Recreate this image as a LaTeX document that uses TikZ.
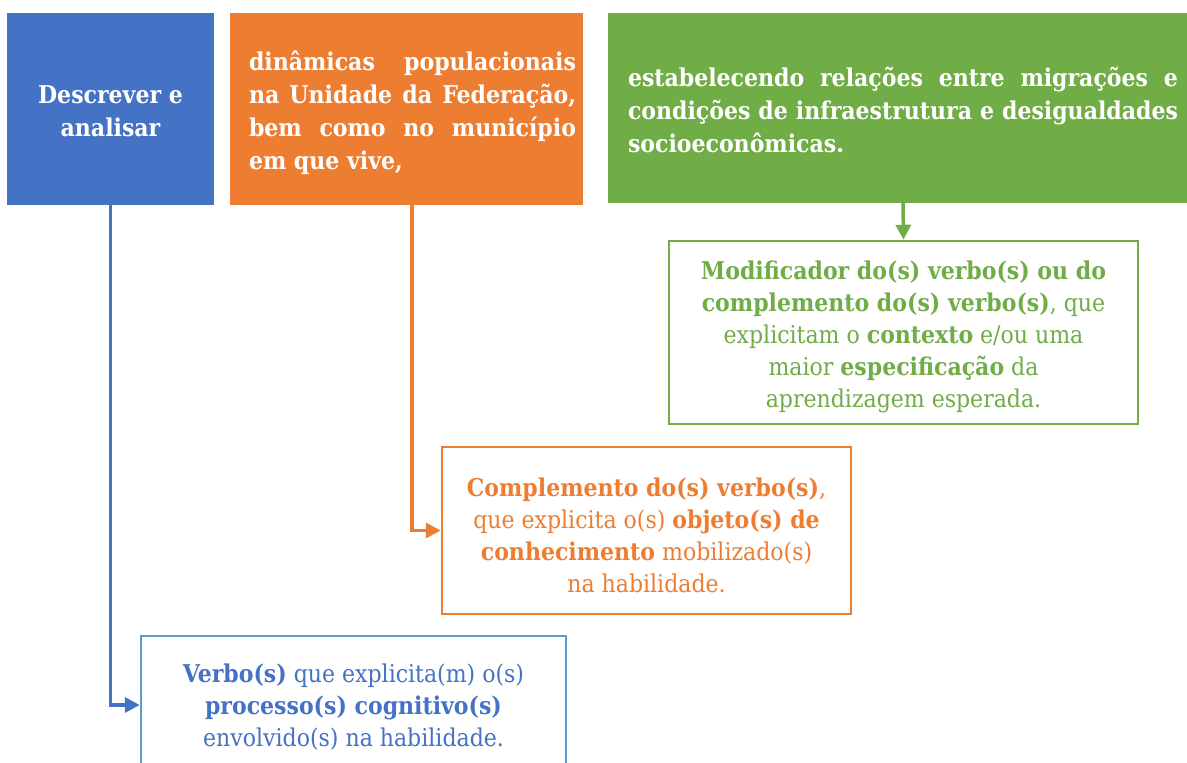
\documentclass[tikz,border=0pt]{standalone}
\usepackage{fontspec}
\setmainfont{DejaVu Serif Condensed}
\usetikzlibrary{arrows.meta}
\definecolor{cblue}{HTML}{4472C4}
\definecolor{cblueline}{HTML}{5B9BD5}
\definecolor{corange}{HTML}{ED7D31}
\definecolor{cgreen}{HTML}{70AD47}
\tikzset{
  topbox/.style={fill=#1, draw=none, inner sep=0pt, text=white, font=\fontsize{24.5}{33}\selectfont\bfseries},
  outbox/.style={draw=#1, line width=2.5pt, inner sep=0pt, fill=white, align=center, font=\fontsize{24.5}{32}\selectfont},
  conn/.style={draw=#1, line width=3.5pt, -{Triangle[length=15pt,width=15pt]}}
}
\newcommand{\jline}[2]{\makebox[#1][s]{#2}}
\newcommand{\lift}[1]{\rule{0pt}{#1pt}}
\begin{document}
\begin{tikzpicture}[x=1pt,y=-1pt]
\useasboundingbox (0,0) rectangle (1187,763);
\node[topbox=cblue, minimum width=207pt, minimum height=192pt, align=center] (verb) at (110.5,109) {\lift{22}Descrever e\\analisar};
\node[topbox=corange, minimum width=353pt, minimum height=192pt, align=left] (comp) at (406.5,109)
  {\lift{27.5}\hspace*{12pt}\jline{327pt}{dinâmicas populacionais}\\\hspace*{12pt}\jline{327pt}{na Unidade da Federação,}\\\hspace*{12pt}\jline{327pt}{bem como no município}\\\hspace*{12pt}em que vive,};
\node[topbox=cgreen, minimum width=590pt, minimum height=190pt, align=left] (modi) at (903,108)
  {\lift{22.5}\jline{550pt}{estabelecendo relações entre migrações e}\\\jline{550pt}{condições de infraestrutura e desigualdades}\\socioeconômicas.};
\node[outbox=cgreen, text=cgreen, minimum width=469pt, minimum height=183pt] (modibox) at (903.5,332.5)
  {\lift{26.5}\textbf{Modificador do(s) verbo(s) ou do}\\\textbf{complemento do(s) verbo(s)}, que\\explicitam o \textbf{contexto} e/ou uma\\maior \textbf{especificação} da\\aprendizagem esperada.};
\node[outbox=corange, text=corange, minimum width=409pt, minimum height=167pt] (compbox) at (646.5,530.5)
  {\lift{28}\textbf{Complemento do(s) verbo(s)},\\que explicita o(s) \textbf{objeto(s) de}\\\textbf{conhecimento} mobilizado(s)\\na habilidade.};
\node[outbox=cblueline, text=cblue, minimum width=425pt, minimum height=138pt] (verbbox) at (353.5,705)
  {\lift{22.5}\textbf{Verbo(s)} que explicita(m) o(s)\\\textbf{processo(s) cognitivo(s)}\\envolvido(s) na habilidade.};
\draw[conn=cblue] (verb.south) -- (verb.south |- verbbox.west) -- (verbbox.west);
\draw[conn=corange] ([xshift=5.5pt]comp.south) -- ([xshift=5.5pt]comp.south |- compbox.west) -- (compbox.west);
\draw[conn=cgreen] (modi.south) -- (modibox.north);
\end{tikzpicture}
\end{document}
